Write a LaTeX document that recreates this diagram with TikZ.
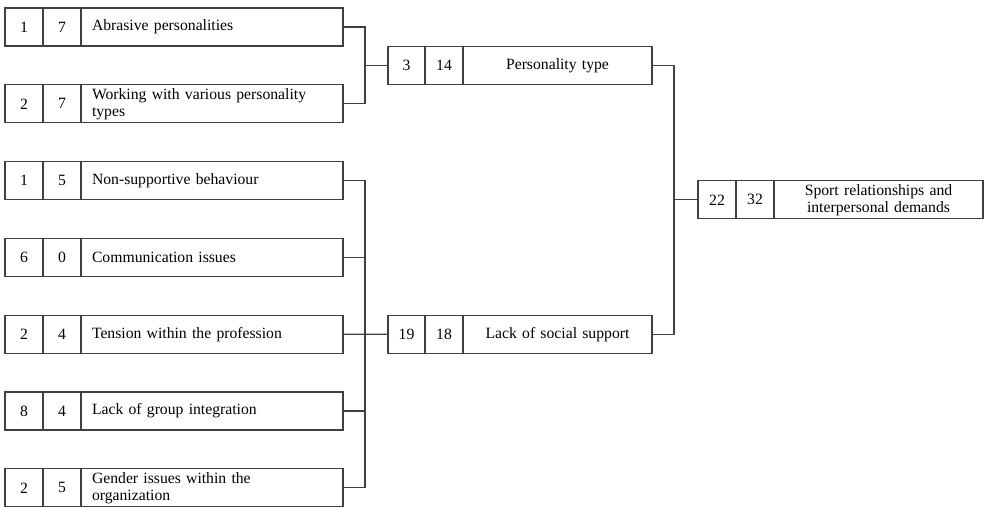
\documentclass[tikz,border=0pt]{standalone}
\usepackage{fontspec}
\setmainfont{Liberation Serif}
\usetikzlibrary{positioning}
\tikzset{
	cell/.style={draw=black!75,line width=1.3pt,minimum height=38pt,minimum width=38pt,inner sep=0pt,outer sep=0pt,font=\fontsize{15.7}{17}\selectfont},
	txtcell/.style={cell,minimum width=262pt,text width=240pt,align=left},
	subcell/.style={cell,minimum width=189pt,text width=180pt,align=center},
	topcell/.style={cell,minimum width=209pt,text width=200pt,align=center},
	wire/.style={draw=black!75,line width=1.3pt}
}
\begin{document}
\begin{tikzpicture}[x=1pt,y=-1pt]
		\useasboundingbox (0,0) rectangle (984,507);
		% left column
		\foreach \i/\a/\b/\t in {0/1/7/{Abrasive personalities},1/2/7/{Working with various personality\\types},2/1/5/{Non-supportive behaviour},3/6/0/{Communication issues},4/2/4/{Tension within the profession},5/8/4/{Lack of group integration},6/2/5/{Gender issues within the\\organization}}{
			\node[cell] (l\i-a) at (24,{27+76.8*\i}) {\a};
			\node[cell,right=0pt of l\i-a] (l\i-b) {\b};
			\node[txtcell,right=0pt of l\i-b] (l\i) {\t};
		}
		% middle column
		\node[cell,minimum width=37pt] (p-a) at (406.5,65.4) {3};
		\node[cell,right=0pt of p-a] (p-b) {14};
		\node[subcell,right=0pt of p-b] (p) {Personality type};
		\node[cell,minimum width=37pt] (s-a) at (406.5,334.2) {19};
		\node[cell,right=0pt of s-a] (s-b) {18};
		\node[subcell,right=0pt of s-b] (s) {Lack of social support};
		% right column
		\node[cell] (t-a) at (717,199.8) {22};
		\node[cell,right=0pt of t-a] (t-b) {32};
		\node[topcell,right=0pt of t-b] (t) {Sport relationships and\\interpersonal demands};
		% connectors
		\draw[wire] (l0.east) -- ++(22,0) |- (l1.east);
		\draw[wire] (p-a.west) -- ++(-23,0);
		\draw[wire] (l2.east) -- ++(22,0) |- (l6.east);
		\foreach \i in {3,5} \draw[wire] (l\i.east) -- ++(22,0);
		\draw[wire] (l4.east) -- (s-a.west);
		\draw[wire] (p.east) -- ++(22,0) |- (s.east);
		\draw[wire] (t-a.west) -- ++(-24,0);
\end{tikzpicture}
\end{document}
